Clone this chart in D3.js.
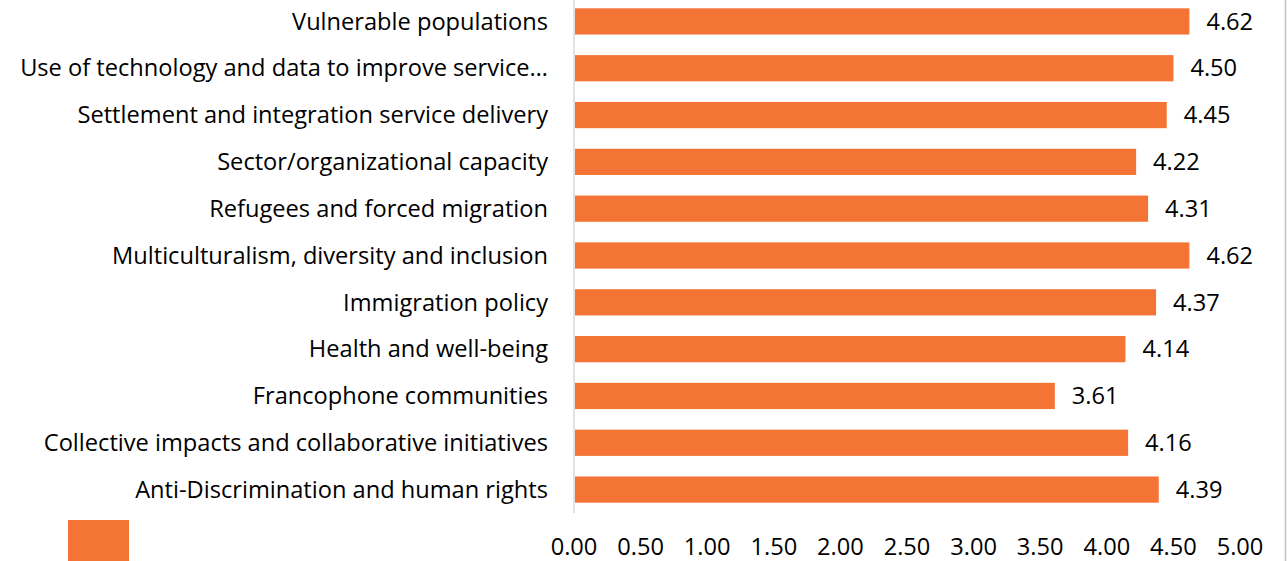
<!DOCTYPE html>
<html><head><meta charset="utf-8">
<script src="https://cdn.jsdelivr.net/npm/d3@7"></script>
<style>body{margin:0;background:#fff}svg{display:block}text{font-family:"Open Sans",sans-serif;fill:#000}</style>
</head><body><svg id="c" width="1288" height="561"></svg>
<script>
const categories = ["Vulnerable populations","Use of technology and data to improve service…","Settlement and integration service delivery","Sector/organizational capacity","Refugees and forced migration","Multiculturalism, diversity and inclusion","Immigration policy","Health and well-being","Francophone communities","Collective impacts and collaborative initiatives","Anti-Discrimination and human rights"];
const values = [4.62,4.50,4.45,4.22,4.31,4.62,4.37,4.14,3.61,4.16,4.39];
const ticks = [0,0.5,1,1.5,2,2.5,3,3.5,4,4.5,5];

const svg = d3.select("#c");
let fs = 21;
const x = d3.scaleLinear().domain([0,5]).range([574,1240]);
const y = d3.scaleBand().domain(categories).range([-2,513]).paddingInner(0.44).paddingOuter(0.22);
const data = categories.map((c,i)=>({c,v:values[i]}));

svg.append("line").attr("x1",1285.5).attr("x2",1285.5).attr("y1",0).attr("y2",561).attr("stroke","#bfbfbf").attr("stroke-width",1.5);
svg.append("line").attr("x1",574).attr("x2",574).attr("y1",0).attr("y2",513).attr("stroke","#d9d9d9").attr("stroke-width",1.5);

svg.selectAll("rect.bar").data(data).enter().append("rect").attr("class","bar")
  .attr("x",x(0)+1).attr("y",d=>y(d.c)).attr("width",d=>x(d.v)-x(0)-1).attr("height",y.bandwidth()).attr("fill","#F37435");

const cats = svg.selectAll("text.cat").data(data).enter().append("text").attr("class","cat")
  .attr("x",548).attr("y",d=>y(d.c)+y.bandwidth()/2).attr("dy","0.35em").attr("text-anchor","end").attr("font-size",fs)
  .text(d=>d.c);
// fit the font size so the longest label spans as in the reference
const w = cats.nodes()[1].getComputedTextLength();
fs = fs * 528 / w;
cats.attr("font-size",fs);

svg.selectAll("text.val").data(data).enter().append("text").attr("class","val")
  .attr("x",d=>x(d.v)+17).attr("y",d=>y(d.c)+y.bandwidth()/2).attr("dy","0.35em").attr("font-size",fs)
  .text(d=>d.v.toFixed(2));

svg.selectAll("text.tick").data(ticks).enter().append("text").attr("class","tick")
  .attr("x",d=>x(d)).attr("y",547).attr("dy","0.35em").attr("text-anchor","middle").attr("font-size",fs)
  .text(d=>d.toFixed(2));

svg.append("rect").attr("x",68).attr("y",520).attr("width",61).attr("height",45).attr("fill","#F37435");
</script></body></html>
